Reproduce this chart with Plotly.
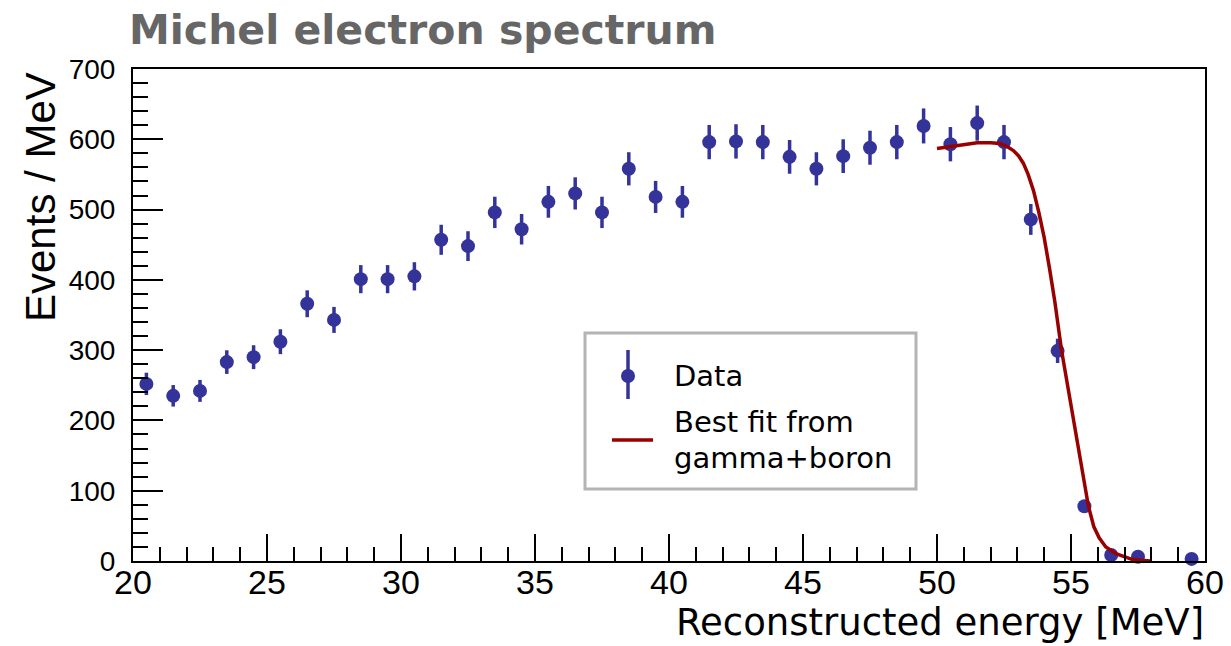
import plotly.graph_objects as go

# ---- data ----
bin_centers = [20.5, 21.5, 22.5, 23.5, 24.5, 25.5, 26.5, 27.5, 28.5, 29.5,
               30.5, 31.5, 32.5, 33.5, 34.5, 35.5, 36.5, 37.5, 38.5, 39.5,
               40.5, 41.5, 42.5, 43.5, 44.5, 45.5, 46.5, 47.5, 48.5, 49.5,
               50.5, 51.5, 52.5, 53.5, 54.5, 55.5, 56.5, 57.5, 58.5, 59.5]
counts = [252, 235, 242, 283, 290, 312, 366, 343, 401, 401,
          405, 457, 448, 496, 472, 511, 523, 496, 558, 518,
          511, 596, 597, 596, 575, 558, 576, 588, 596, 619,
          593, 623, 596, 486, 299, 78, 8.5, 6, None, 3]
errors = [15.9, 15.3, 15.6, 16.8, 17.0, 17.7, 19.1, 18.5, 20.0, 20.0,
          20.1, 21.4, 21.2, 22.3, 21.7, 22.6, 22.9, 22.3, 23.6, 22.8,
          22.6, 24.4, 24.4, 24.4, 24.0, 23.6, 24.0, 24.2, 24.4, 24.9,
          24.4, 25.0, 24.4, 22.0, 17.3, 8.8, 2.9, 2.4, 0, 1.7]

fit_x = [50.0, 50.5, 51.0, 51.5, 52.0, 52.35, 52.6, 52.85, 53.05, 53.22,
         53.4, 53.6, 53.8, 54.0, 54.2, 54.4, 54.65, 54.9, 55.1, 55.4,
         55.65, 55.85, 56.05, 56.3, 56.7, 57.3, 57.95]
fit_y = [587, 590, 593, 595, 595, 594, 590, 584, 576, 566,
         550, 527, 496, 460, 416, 368, 299, 242, 199, 130,
         78, 49, 33, 20, 10, 2, 0]

x_ticks = [20, 25, 30, 35, 40, 45, 50, 55, 60]
y_ticks = [0, 100, 200, 300, 400, 500, 600, 700]

DATA_COLOR = "#333399"
FIT_COLOR = "#990000"

fig = go.Figure()
fig.add_trace(go.Scatter(
    x=bin_centers, y=counts, mode="markers",
    marker=dict(color=DATA_COLOR, size=14),
    error_y=dict(type="data", array=errors, visible=True,
                 color=DATA_COLOR, thickness=3.5, width=0),
    showlegend=False, cliponaxis=False))
fig.add_trace(go.Scatter(
    x=fit_x, y=fit_y, mode="lines",
    line=dict(color=FIT_COLOR, width=3.5),
    showlegend=False))

# ---- layout ----
W, H = 1231, 646
L, R, T, B = 133, 26, 69, 85
pw, ph = W - L - R, H - T - B

def px(xp):
    return (xp - L) / pw

def py(yp):
    return (H - B - yp) / ph

fig.update_layout(
    width=W, height=H,
    margin=dict(l=L, r=R, t=T, b=B, autoexpand=False),
    paper_bgcolor="white", plot_bgcolor="white",
    xaxis=dict(range=[20, 60], tickvals=x_ticks, ticktext=[str(v) for v in x_ticks],
               showline=True, linecolor="black", linewidth=2, mirror=True,
               ticks="inside", ticklen=27, tickwidth=2, tickcolor="black",
               minor=dict(ticks="inside", ticklen=14, dtick=1, tickwidth=2,
                          tickcolor="black", showgrid=False),
               showgrid=False, zeroline=False, automargin=False,
               tickfont=dict(family="Liberation Sans", size=34, color="black"),
               ticklabelstandoff=-10),
    yaxis=dict(range=[0, 700], tickvals=y_ticks, ticktext=[str(v) for v in y_ticks],
               showline=True, linecolor="black", linewidth=2, mirror=True,
               ticks="inside", ticklen=30, tickwidth=2, tickcolor="black",
               minor=dict(ticks="inside", ticklen=15, dtick=20, tickwidth=2,
                          tickcolor="black", showgrid=False),
               showgrid=False, zeroline=False, automargin=False,
               tickfont=dict(family="Liberation Sans", size=28, color="black"),
               ticklabelstandoff=10),
)

annotations = [
    dict(text="<b>Michel electron spectrum</b>", xref="paper", yref="paper",
         x=px(127), y=py(30), xanchor="left", yanchor="middle", showarrow=False,
         font=dict(family="DejaVu Sans", size=41, color="#666666")),
    dict(text="Events / MeV", xref="paper", yref="paper",
         x=px(40), y=py(197), xanchor="center", yanchor="middle", textangle=-90,
         showarrow=False, font=dict(family="Liberation Sans", size=42, color="black")),
    dict(text="Reconstructed energy [MeV]", xref="paper", yref="paper",
         x=px(1206), y=py(622), xanchor="right", yanchor="middle", showarrow=False,
         font=dict(family="DejaVu Sans", size=37, color="black")),
    dict(text="Data", xref="paper", yref="paper",
         x=px(672), y=py(376), xanchor="left", yanchor="middle", showarrow=False,
         font=dict(family="DejaVu Sans", size=29, color="black")),
    dict(text="Best fit from", xref="paper", yref="paper",
         x=px(672), y=py(422), xanchor="left", yanchor="middle", showarrow=False,
         font=dict(family="DejaVu Sans", size=29, color="black")),
    dict(text="gamma+boron", xref="paper", yref="paper",
         x=px(672), y=py(458), xanchor="left", yanchor="middle", showarrow=False,
         font=dict(family="DejaVu Sans", size=29, color="black")),
]
fig.update_layout(annotations=annotations)

shapes = [
    # legend box
    dict(type="rect", xref="paper", yref="paper",
         x0=px(585), x1=px(916), y0=py(489), y1=py(333),
         line=dict(color="#b4b4b4", width=3), fillcolor="white", layer="above"),
    # legend data error bar
    dict(type="line", xref="paper", yref="paper",
         x0=px(628), x1=px(628), y0=py(350), y1=py(399),
         line=dict(color=DATA_COLOR, width=3.5), layer="above"),
    # legend data marker
    dict(type="circle", xref="paper", yref="paper",
         x0=px(621), x1=px(635), y0=py(383), y1=py(369),
         line=dict(color=DATA_COLOR, width=0), fillcolor=DATA_COLOR, layer="above"),
    # legend fit line
    dict(type="line", xref="paper", yref="paper",
         x0=px(612), x1=px(653), y0=py(440), y1=py(440),
         line=dict(color=FIT_COLOR, width=3.5), layer="above"),
]
fig.update_layout(shapes=shapes)

fig.write_html("out.html")
